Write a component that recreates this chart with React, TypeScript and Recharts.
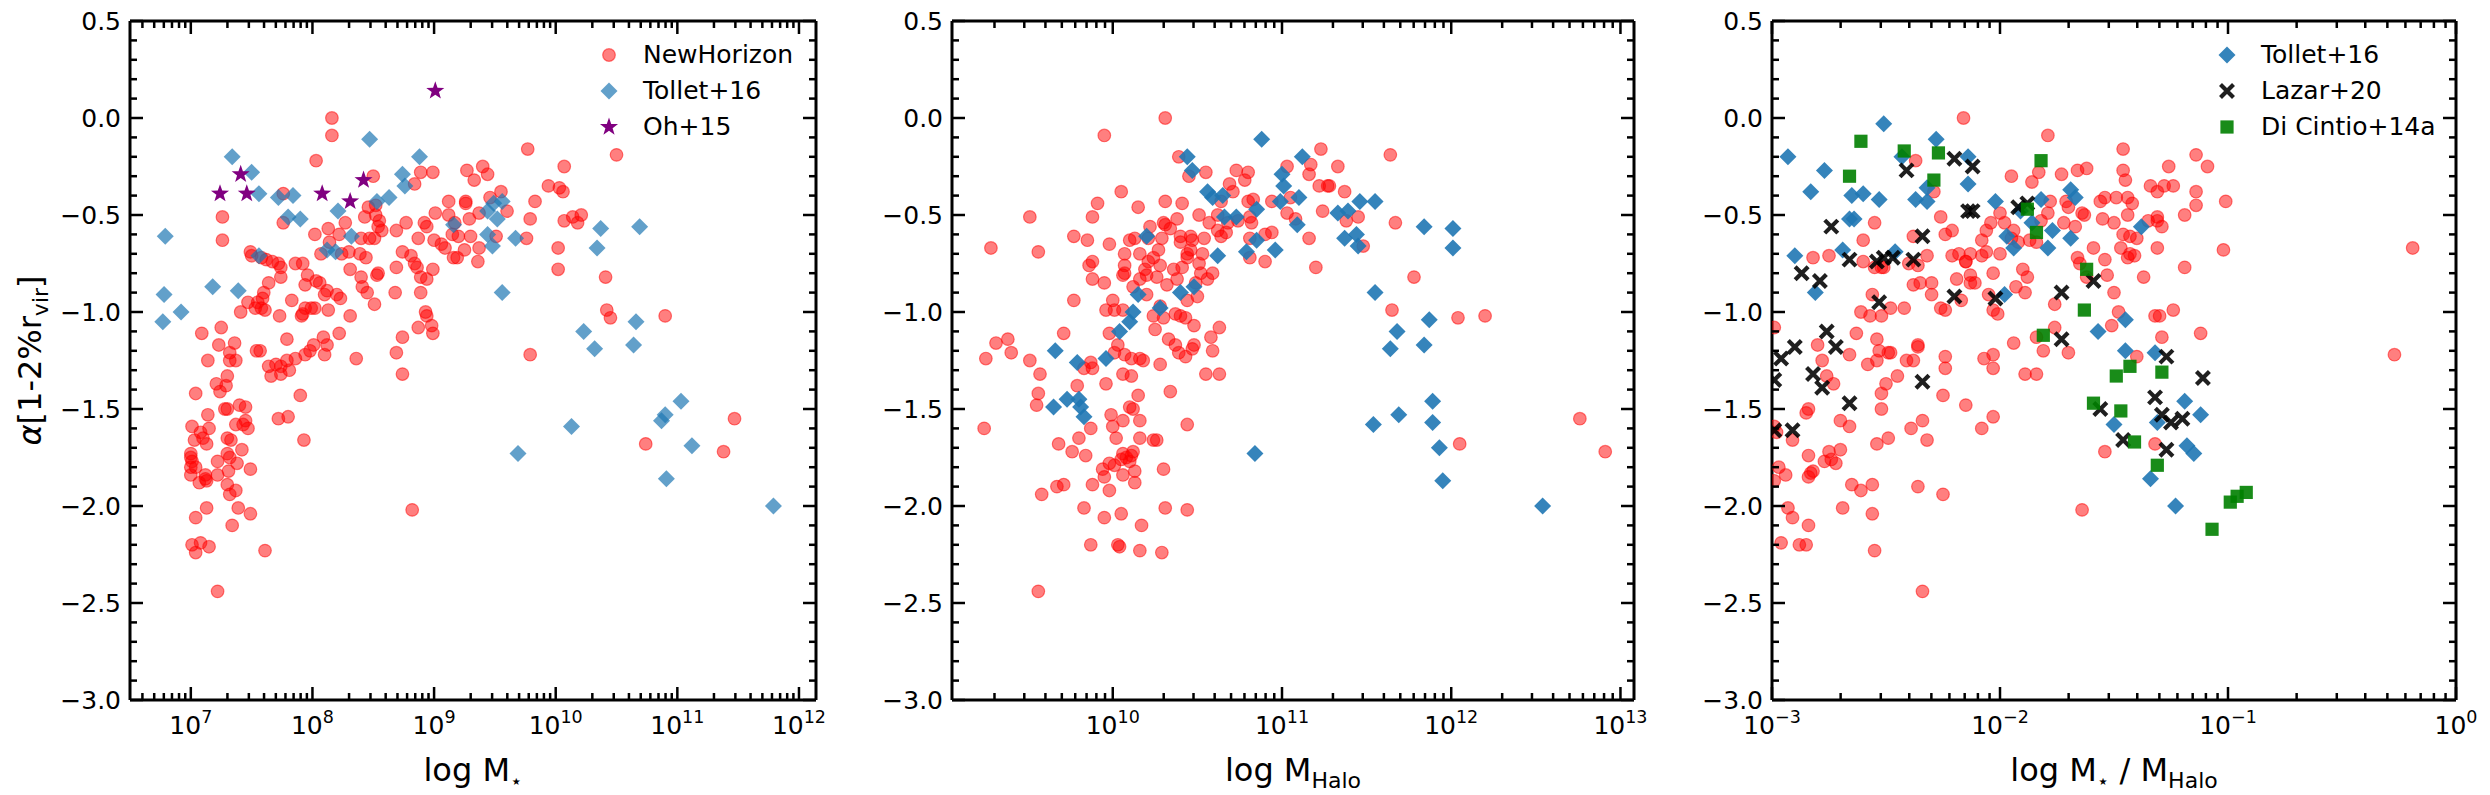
import { Label, Legend, Scatter, ScatterChart, XAxis, YAxis } from 'recharts'
import type { ReactNode } from 'react'

type Pt = [number, number]

// ---- data: [log x, alpha] ----
const nhStellar: Pt[] = [
  [8.16, 0.0], [8.16, -0.09], [8.03, -0.22], [7.26, -0.51], [7.26, -0.63], [7.76, -0.39], [7.76, -0.54],
  [8.5, -0.3], [8.99, -0.28], [8.89, -0.28], [8.84, -0.34], [9.27, -0.27], [9.33, -0.32], [9.12, -0.43],
  [9.26, -0.43], [9.26, -0.44], [9.01, -0.49], [9.12, -0.5], [9.17, -0.54], [9.29, -0.52], [9.37, -0.49],
  [8.92, -0.54], [8.94, -0.56], [8.77, -0.54], [8.69, -0.58], [8.87, -0.62], [9.0, -0.63], [9.06, -0.65],
  [9.09, -0.67], [9.15, -0.6], [9.2, -0.61], [9.3, -0.61], [9.25, -0.68], [9.16, -0.72], [9.19, -0.72],
  [9.36, -0.74], [8.74, -0.69], [8.81, -0.71], [8.84, -0.75], [8.86, -0.77], [8.69, -0.77], [8.99, -0.78],
  [8.89, -0.82], [8.94, -0.83], [8.89, -0.9], [8.68, -0.9], [8.93, -1.0], [8.94, -1.02], [8.87, -1.08],
  [8.98, -1.07], [8.99, -1.11], [8.74, -1.13], [8.69, -1.21], [8.74, -1.32], [8.82, -2.02],
  [8.02, -0.6], [8.13, -0.57], [8.22, -0.6], [8.27, -0.54], [8.14, -0.64], [8.07, -0.7], [8.24, -0.7],
  [8.3, -0.69], [8.39, -0.7], [8.44, -0.72], [8.4, -0.62], [8.47, -0.62], [8.51, -0.62], [8.43, -0.51],
  [8.46, -0.46], [8.52, -0.45], [8.52, -0.5], [8.55, -0.53], [8.54, -0.56], [8.57, -0.58], [8.31, -0.78],
  [8.4, -0.82], [8.41, -0.87], [8.45, -0.9], [8.51, -0.96], [8.53, -0.81], [8.54, -0.8], [8.31, -1.02],
  [8.22, -1.11], [8.36, -1.24],
  [7.86, -0.75], [7.92, -0.75], [7.96, -0.81], [7.94, -0.86], [8.03, -0.84], [8.06, -0.85], [8.1, -0.91],
  [8.12, -0.89], [8.2, -0.91], [8.23, -0.93], [8.13, -0.99], [8.02, -0.98], [7.99, -0.98], [7.94, -0.98],
  [7.92, -1.01], [7.91, -1.02], [7.83, -0.94], [7.73, -1.02], [7.79, -1.14], [8.09, -1.13], [8.12, -1.17],
  [8.1, -1.22], [8.01, -1.17], [7.98, -1.2], [7.94, -1.22], [7.86, -1.24], [7.79, -1.25], [7.74, -1.28],
  [7.7, -1.27], [7.64, -1.28], [7.66, -1.33], [7.74, -1.32], [7.81, -1.3], [7.9, -1.43], [7.8, -1.54],
  [7.72, -1.55], [7.93, -1.66],
  [7.49, -0.69], [7.5, -0.71], [7.58, -0.72], [7.62, -0.73], [7.67, -0.74], [7.72, -0.75], [7.74, -0.77],
  [7.74, -0.82], [7.64, -0.85], [7.6, -0.9], [7.59, -0.93], [7.55, -0.95], [7.58, -0.98], [7.61, -0.99],
  [7.53, -0.98], [7.47, -0.95], [7.41, -1.0], [7.54, -1.2], [7.57, -1.2],
  [7.09, -1.11], [7.25, -1.08], [7.23, -1.17], [7.36, -1.16], [7.32, -1.21], [7.32, -1.25], [7.37, -1.25],
  [7.14, -1.25], [7.3, -1.33], [7.21, -1.37], [7.29, -1.38], [7.24, -1.41], [7.04, -1.42], [7.4, -1.48],
  [7.45, -1.49], [7.28, -1.5], [7.3, -1.5], [7.14, -1.53], [7.01, -1.59], [7.08, -1.62], [7.15, -1.6],
  [7.45, -1.56], [7.47, -1.6], [7.43, -1.58], [7.37, -1.58], [7.3, -1.65], [7.33, -1.66], [7.13, -1.68],
  [7.1, -1.65], [7.03, -1.66], [7.0, -1.73], [7.0, -1.75], [7.01, -1.77], [7.04, -1.8], [7.0, -1.8],
  [7.0, -1.84], [7.07, -1.88], [7.12, -1.86], [7.13, -1.87], [7.12, -1.84], [7.22, -1.84], [7.22, -1.77],
  [7.3, -1.73], [7.32, -1.75], [7.38, -1.78], [7.42, -1.71], [7.31, -1.82], [7.3, -1.89], [7.32, -1.94],
  [7.37, -1.92], [7.39, -2.01], [7.49, -1.81], [7.49, -2.04], [7.13, -2.01], [7.04, -2.06], [7.34, -2.1],
  [7.01, -2.2], [7.04, -2.24], [7.08, -2.19], [7.15, -2.21], [7.61, -2.23], [7.22, -2.44],
  [9.4, -0.25], [9.44, -0.29], [9.77, -0.16], [10.07, -0.25], [10.5, -0.19], [9.94, -0.35], [10.03, -0.36],
  [10.06, -0.38], [9.83, -0.43], [9.55, -0.38], [9.46, -0.41], [9.6, -0.48], [9.79, -0.52], [10.07, -0.53],
  [10.14, -0.51], [10.21, -0.5], [10.18, -0.54], [9.51, -0.61], [9.76, -0.62], [9.37, -0.67], [10.02, -0.67],
  [10.02, -0.78], [10.41, -0.82], [10.42, -0.99], [10.45, -1.03], [10.9, -1.02], [9.79, -1.22],
  [10.74, -1.68], [11.47, -1.55], [11.38, -1.72],
]

const nhHalo: Pt[] = [
  [10.31, 0.0], [9.95, -0.09], [9.51, -0.51], [9.28, -0.67], [9.56, -0.69], [9.77, -0.94], [10.05, -0.38],
  [9.91, -0.44], [9.88, -0.51], [9.77, -0.61], [9.85, -0.63], [9.98, -0.65], [10.15, -0.46], [10.31, -0.43],
  [10.41, -0.44], [10.39, -0.2], [10.45, -0.3], [10.55, -0.28], [10.73, -0.27], [10.8, -0.28], [10.78, -0.32],
  [10.69, -0.34], [10.71, -0.38], [10.64, -0.43], [10.8, -0.43], [10.83, -0.42], [10.94, -0.43],
  [10.51, -0.5], [10.57, -0.54], [10.62, -0.5], [10.68, -0.54], [10.74, -0.53], [10.81, -0.51], [10.82, -0.54],
  [10.62, -0.58], [10.67, -0.59], [10.64, -0.61], [10.9, -0.6], [10.94, -0.59], [10.81, -0.62], [10.9, -0.74],
  [10.81, -0.72], [10.38, -0.52], [10.3, -0.54], [10.31, -0.55], [10.34, -0.57], [10.22, -0.56], [10.13, -0.62],
  [10.21, -0.62], [10.29, -0.62], [10.4, -0.61], [10.46, -0.61], [10.47, -0.63], [10.4, -0.64], [10.46, -0.68],
  [10.54, -0.62], [10.53, -0.7], [10.51, -0.75], [10.52, -0.8], [10.56, -0.83], [10.59, -0.8], [10.44, -0.7],
  [10.44, -0.72], [10.41, -0.77], [10.49, -0.85], [10.5, -0.92], [10.44, -0.94], [10.36, -0.78], [10.38, -0.83],
  [10.32, -0.86], [10.27, -0.68], [10.24, -0.72], [10.21, -0.74], [10.16, -0.7], [10.19, -0.78], [10.16, -0.83],
  [10.2, -0.81], [10.28, -0.76], [10.26, -0.82], [10.1, -0.63], [10.07, -0.7], [10.07, -0.76], [10.06, -0.81],
  [10.07, -0.8], [10.12, -0.87], [10.0, -0.94], [9.96, -0.99], [10.01, -0.99], [10.06, -0.99], [9.95, -0.85],
  [9.88, -0.83], [9.86, -0.76], [9.88, -0.74], [9.98, -1.11], [10.03, -1.17], [10.01, -1.21], [10.07, -1.22],
  [10.11, -1.24], [10.16, -1.24], [10.18, -1.25], [10.06, -1.32], [10.11, -1.33], [10.2, -0.91], [10.28, -0.97],
  [10.24, -1.02], [10.3, -1.03], [10.37, -1.01], [10.4, -1.02], [10.43, -1.03], [10.48, -1.07], [10.25, -1.09],
  [10.33, -1.14], [10.37, -1.17], [10.39, -1.21], [10.43, -1.23], [10.48, -1.17], [10.47, -1.19], [10.58, -1.13],
  [10.63, -1.08], [10.59, -1.2], [10.55, -1.32], [10.63, -1.32], [10.28, -1.27], [10.34, -1.41], [10.44, -1.58],
  [9.71, -1.11], [9.57, -1.32], [9.51, -1.25], [9.4, -1.21], [9.38, -1.14], [9.31, -1.16], [9.25, -1.24],
  [9.24, -1.6], [9.56, -1.42], [9.55, -1.48], [9.79, -1.38], [9.83, -1.29], [9.87, -1.26], [9.88, -1.29],
  [9.96, -1.37], [9.87, -1.6], [9.8, -1.65], [9.76, -1.72], [9.84, -1.74], [9.68, -1.68], [9.99, -1.53],
  [10.0, -1.59], [10.02, -1.65], [10.06, -1.56], [10.1, -1.49], [10.12, -1.5], [10.15, -1.43], [10.16, -1.56],
  [10.16, -1.65], [10.12, -1.72], [10.11, -1.74], [10.08, -1.75], [10.06, -1.73], [10.05, -1.76], [10.01, -1.79],
  [9.98, -1.78], [9.94, -1.81], [9.95, -1.85], [9.98, -1.92], [10.06, -1.84], [10.13, -1.82], [10.13, -1.88],
  [10.1, -1.77], [10.24, -1.66], [10.26, -1.66], [10.3, -1.81], [9.88, -1.89], [9.71, -1.89], [9.67, -1.9],
  [9.58, -1.94], [9.83, -2.01], [9.95, -2.06], [10.05, -2.04], [10.17, -2.1], [10.31, -2.01], [10.44, -2.02],
  [9.87, -2.2], [10.03, -2.2], [10.04, -2.21], [10.16, -2.23], [10.29, -2.24], [9.56, -2.44],
  [11.23, -0.16], [11.64, -0.19], [11.03, -0.25], [11.17, -0.24], [11.16, -0.29], [11.33, -0.25], [11.22, -0.35],
  [11.27, -0.35], [11.28, -0.35], [11.37, -0.38], [11.05, -0.41], [11.03, -0.49], [11.08, -0.52], [11.24, -0.48],
  [11.38, -0.53], [11.45, -0.51], [11.16, -0.62], [11.48, -0.66], [11.67, -0.54], [11.2, -0.77], [11.78, -0.82],
  [11.65, -0.99], [12.04, -1.03], [12.2, -1.02], [12.05, -1.68], [12.76, -1.55], [12.91, -1.72],
]

const nhRatio: Pt[] = [
  [-2.16, 0.0], [-1.79, -0.09], [-2.37, -0.22], [-1.95, -0.3], [-1.86, -0.33], [-1.83, -0.28], [-1.73, -0.29],
  [-1.66, -0.27], [-1.62, -0.26], [-2.29, -0.38], [-2.26, -0.51], [-2.24, -0.6], [-2.21, -0.58], [-2.55, -0.54],
  [-2.6, -0.63], [-2.38, -0.61], [-2.82, -0.72], [-2.75, -0.71], [-2.6, -0.74], [-2.55, -0.77], [-2.52, -0.77],
  [-2.51, -0.77], [-2.4, -0.75], [-2.36, -0.76], [-2.32, -0.71], [-2.21, -0.71], [-2.18, -0.7], [-2.15, -0.74],
  [-2.13, -0.7], [-2.08, -0.71], [-2.06, -0.69], [-2.0, -0.7], [-2.08, -0.63], [-2.06, -0.58], [-2.04, -0.54],
  [-2.0, -0.49], [-1.98, -0.54], [-1.94, -0.58], [-1.95, -0.62], [-1.92, -0.64], [-1.87, -0.63], [-1.84, -0.64],
  [-1.82, -0.53], [-1.79, -0.49], [-1.78, -0.43], [-1.71, -0.43], [-1.7, -0.46], [-1.64, -0.49], [-1.63, -0.5],
  [-1.72, -0.54], [-1.67, -0.56], [-1.56, -0.43], [-1.54, -0.41], [-1.55, -0.52], [-1.59, -0.67], [-1.66, -0.72],
  [-1.65, -0.75], [-1.62, -0.82], [-1.54, -0.73], [-1.53, -0.81], [-2.38, -0.86], [-2.35, -0.85], [-2.3, -0.85],
  [-2.3, -0.91], [-2.26, -0.98], [-2.24, -0.99], [-2.17, -0.94], [-2.19, -0.83], [-2.13, -0.81], [-2.13, -0.85],
  [-2.11, -0.85], [-2.15, -0.74], [-2.03, -0.8], [-2.05, -0.91], [-2.03, -0.99], [-2.01, -1.01], [-1.93, -0.87],
  [-1.9, -0.78], [-1.88, -0.82], [-1.89, -0.9], [-1.76, -0.96], [-1.76, -1.08], [-1.84, -1.13], [-1.81, -1.2],
  [-1.7, -1.21], [-1.94, -1.16], [-1.89, -1.32], [-1.84, -1.32], [-2.03, -1.22], [-2.03, -1.29], [-2.07, -1.24],
  [-2.03, -1.54], [-2.08, -1.6], [-2.15, -1.48], [-2.24, -1.23], [-2.24, -1.29], [-2.25, -1.43], [-2.36, -1.17],
  [-2.41, -1.25], [-2.38, -1.25], [-2.45, -1.33], [-2.48, -1.21], [-2.49, -1.21], [-2.53, -1.2], [-2.54, -1.14],
  [-2.54, -1.25], [-2.58, -1.27], [-2.5, -1.37], [-2.52, -1.42], [-2.52, -1.5], [-2.63, -1.11], [-2.61, -1.0],
  [-2.57, -1.02], [-2.56, -0.91], [-2.52, -1.02], [-2.48, -0.98], [-2.42, -0.98], [-2.66, -1.22], [-2.8, -1.17],
  [-2.78, -1.25], [-2.76, -1.33], [-2.73, -1.37], [-2.84, -1.5], [-2.85, -1.52], [-2.7, -1.56], [-2.66, -1.59],
  [-2.7, -1.71], [-2.75, -1.72], [-2.74, -1.76], [-2.72, -1.78], [-2.77, -1.77], [-2.84, -1.74], [-2.82, -1.82],
  [-2.84, -1.85], [-2.83, -1.83], [-2.99, -1.59], [-2.98, -1.62], [-2.91, -1.66], [-2.97, -1.8], [-2.94, -1.84],
  [-2.99, -1.87], [-2.93, -2.01], [-2.91, -2.06], [-2.84, -2.1], [-2.96, -2.19], [-2.88, -2.2], [-2.85, -2.2],
  [-2.69, -2.01], [-2.65, -1.89], [-2.61, -1.92], [-2.56, -1.89], [-2.56, -2.04], [-2.55, -2.23], [-2.54, -1.68],
  [-2.49, -1.65], [-2.39, -1.6], [-2.34, -1.56], [-2.32, -1.66], [-2.36, -1.9], [-2.25, -1.94], [-2.34, -2.44],
  [-1.64, -2.02], [-1.54, -1.72], [-2.99, -1.08], [-2.36, -1.18],
  [-1.46, -0.16], [-1.46, -0.27], [-1.45, -0.32], [-1.34, -0.35], [-1.31, -0.38], [-1.28, -0.35], [-1.24, -0.35],
  [-1.26, -0.25], [-1.14, -0.19], [-1.09, -0.25], [-1.14, -0.38], [-1.14, -0.45], [-1.19, -0.5], [-1.01, -0.43],
  [-1.49, -0.41], [-1.44, -0.41], [-1.42, -0.44], [-1.5, -0.54], [-1.44, -0.5], [-1.46, -0.6], [-1.43, -0.61],
  [-1.4, -0.62], [-1.31, -0.51], [-1.31, -0.53], [-1.29, -0.56], [-1.35, -0.53], [-1.31, -0.67], [-1.47, -0.67],
  [-1.43, -0.7], [-1.41, -0.71], [-1.44, -0.72], [-1.37, -0.82], [-1.5, -0.9], [-1.19, -0.77], [-1.02, -0.68],
  [-1.48, -1.0], [-1.51, -1.07], [-1.32, -1.02], [-1.3, -1.02], [-1.24, -0.99], [-1.29, -1.13], [-1.12, -1.11],
  [-1.4, -1.23], [-1.32, -1.68], [-0.19, -0.67], [-0.27, -1.22],
]

const tollStellar: Pt[] = [
  [6.79, -0.61], [6.78, -0.91], [6.77, -1.05], [6.92, -1.0], [7.18, -0.87], [7.39, -0.89], [7.34, -0.2],
  [7.5, -0.28], [7.56, -0.39], [7.72, -0.41], [7.84, -0.4], [7.8, -0.51], [7.9, -0.52], [7.56, -0.71],
  [8.12, -0.68], [8.19, -0.69], [8.21, -0.48], [8.32, -0.61], [8.47, -0.11], [8.53, -0.43], [8.63, -0.41],
  [8.74, -0.29], [8.76, -0.35], [8.88, -0.2], [9.16, -0.55], [9.44, -0.48], [9.52, -0.52], [9.56, -0.43],
  [9.49, -0.44], [9.44, -0.6], [9.48, -0.66], [9.67, -0.62], [9.56, -0.9], [10.37, -0.57], [10.34, -0.67],
  [10.69, -0.56], [10.23, -1.1], [10.32, -1.19], [10.66, -1.05], [10.64, -1.17], [10.13, -1.59], [9.69, -1.73],
  [10.9, -1.53], [10.87, -1.56], [11.03, -1.46], [11.12, -1.69], [10.91, -1.86], [11.79, -2.0],
]

const tollHalo: Pt[] = [
  [10.88, -0.11], [10.44, -0.2], [10.47, -0.27], [10.56, -0.38], [10.59, -0.41], [10.65, -0.4], [10.66, -0.51],
  [10.73, -0.51], [10.85, -0.47], [10.85, -0.63], [10.79, -0.69], [10.96, -0.68], [11.0, -0.29], [11.01, -0.35],
  [10.99, -0.43], [10.62, -0.71], [10.2, -0.61], [10.15, -0.91], [10.4, -0.9], [10.48, -0.87], [10.28, -0.98],
  [10.12, -1.0], [10.1, -1.05], [10.04, -1.1], [9.96, -1.24], [9.66, -1.2], [9.79, -1.26], [9.73, -1.45],
  [9.8, -1.45], [9.81, -1.49], [9.83, -1.54], [9.65, -1.49], [10.84, -1.73],
  [11.12, -0.2], [11.1, -0.41], [11.09, -0.55], [11.33, -0.49], [11.39, -0.48], [11.46, -0.43], [11.55, -0.43],
  [11.37, -0.62], [11.44, -0.6], [11.45, -0.66], [11.84, -0.56], [12.01, -0.57], [12.01, -0.67], [11.55, -0.9],
  [11.68, -1.1], [11.64, -1.19], [11.87, -1.04], [11.84, -1.17], [11.89, -1.46], [11.69, -1.53], [11.54, -1.58],
  [11.89, -1.57], [11.93, -1.7], [11.95, -1.87], [12.54, -2.0],
]

const tollRatio: Pt[] = [
  [-2.51, -0.03], [-2.93, -0.2], [-2.77, -0.27], [-2.83, -0.38], [-2.65, -0.4], [-2.6, -0.39], [-2.53, -0.42],
  [-2.66, -0.52], [-2.64, -0.52], [-2.69, -0.68], [-2.9, -0.71], [-2.81, -0.9], [-2.46, -0.69], [-2.43, -0.2],
  [-2.28, -0.11], [-2.14, -0.2], [-2.14, -0.34], [-2.32, -0.36], [-2.37, -0.42], [-2.32, -0.43], [-2.02, -0.43],
  [-1.91, -0.48], [-1.82, -0.42], [-1.86, -0.54], [-1.77, -0.58], [-1.97, -0.61], [-1.94, -0.67], [-1.79, -0.67],
  [-1.69, -0.37], [-1.67, -0.41], [-1.69, -0.62], [-1.98, -0.91], [-1.57, -1.1],
  [-1.38, -0.56], [-1.45, -1.04], [-1.45, -1.2], [-1.32, -1.21], [-1.19, -1.46], [-1.12, -1.53], [-1.31, -1.57],
  [-1.5, -1.58], [-1.18, -1.69], [-1.15, -1.73], [-1.34, -1.86], [-1.23, -2.0],
]

const ohStellar: Pt[] = [
  [7.24, -0.39], [7.41, -0.29], [7.46, -0.39], [8.08, -0.39], [8.31, -0.43], [8.42, -0.32], [9.01, 0.14],
]

const lazarRatio: Pt[] = [
  [-2.2, -0.21], [-2.12, -0.25], [-2.41, -0.27], [-2.14, -0.48], [-2.12, -0.48], [-2.34, -0.61], [-2.74, -0.56],
  [-2.66, -0.73], [-2.54, -0.74], [-2.51, -0.72], [-2.47, -0.72], [-2.38, -0.73], [-2.87, -0.8], [-2.79, -0.84],
  [-2.53, -0.95], [-2.2, -0.92], [-2.02, -0.93], [-1.92, -0.46], [-1.88, -0.44], [-1.59, -0.84], [-1.73, -0.9],
  [-1.73, -1.14], [-2.76, -1.1], [-2.72, -1.18], [-2.9, -1.18], [-2.96, -1.24], [-2.82, -1.32], [-2.78, -1.39],
  [-2.66, -1.47], [-2.34, -1.36], [-2.91, -1.61], [-2.99, -1.61], [-2.99, -1.35], [-1.56, -1.5],
  [-1.27, -1.23], [-1.11, -1.34], [-1.32, -1.44], [-1.29, -1.53], [-1.25, -1.57], [-1.2, -1.55], [-1.46, -1.66],
  [-1.27, -1.71],
]

const dicintioRatio: Pt[] = [
  [-2.61, -0.12], [-2.66, -0.3], [-2.42, -0.17], [-2.27, -0.18], [-2.29, -0.32], [-1.82, -0.22], [-1.88, -0.47],
  [-1.84, -0.59], [-1.62, -0.78], [-1.63, -0.99], [-1.81, -1.12], [-1.59, -1.47],
  [-1.49, -1.33], [-1.43, -1.28], [-1.29, -1.31], [-1.47, -1.51], [-1.41, -1.67], [-1.31, -1.79], [-1.07, -2.12],
  [-0.99, -1.98], [-0.96, -1.95], [-0.92, -1.93],
]

const Y_DOMAIN: [number, number] = [-3, 0.5]
const Y_TICKS = Array.from({ length: 36 }, (_, i) => (i - 30) / 10)

const FONT = "'DejaVu Sans', sans-serif"
const RED = '#ff0000'
const TAB_BLUE = '#1f77b4'
const SPINE = { stroke: '#000', strokeWidth: 3 }

function logTicks(lo: number, hi: number) {
  const out: number[] = []
  for (let d = Math.floor(lo); d <= Math.ceil(hi); d++) {
    for (let k = 1; k <= 9; k++) {
      const v = d + Math.log10(k)
      if (v >= lo - 1e-9 && v <= hi + 1e-9) out.push(v)
    }
  }
  return out
}

const fmtExp = (v: number) => (v < 0 ? `\u2212${-v}` : String(v))
const fmtY = (v: number) => v.toFixed(1).replace('-', '\u2212')
const isMajorY = (v: number) => Math.round(v * 10) % 5 === 0

// ---- markers ----
const drawCircle = (cx: number, cy: number) => (
  <circle cx={cx} cy={cy} r={6.3} fill={RED} fillOpacity={0.5} stroke={RED} strokeOpacity={0.5} strokeWidth={1.2} />
)
const drawDiamond = (alpha: number) => (cx: number, cy: number) => (
  <polygon
    points={`${cx},${cy - 8.5} ${cx + 8.5},${cy} ${cx},${cy + 8.5} ${cx - 8.5},${cy}`}
    fill={TAB_BLUE}
    fillOpacity={alpha}
  />
)
const drawStar = (cx: number, cy: number) => {
  const pts = Array.from({ length: 10 }, (_, i) => {
    const a = -Math.PI / 2 + (i * Math.PI) / 5
    const r = i % 2 === 0 ? 9.5 : 3.8
    return `${cx + r * Math.cos(a)},${cy + r * Math.sin(a)}`
  }).join(' ')
  return <polygon points={pts} fill="#800080" />
}
const drawCross = (cx: number, cy: number) => (
  <path
    d={`M${cx - 6.5},${cy - 6.5}L${cx + 6.5},${cy + 6.5}M${cx - 6.5},${cy + 6.5}L${cx + 6.5},${cy - 6.5}`}
    stroke="#000"
    strokeOpacity={0.88}
    strokeWidth={4.2}
  />
)
const drawSquare = (cx: number, cy: number) => (
  <rect x={cx - 6.6} y={cy - 6.6} width={13.2} height={13.2} fill="#008000" fillOpacity={0.9} />
)

// ---- ticks (inward, all four sides) ----
function BottomTick(props: any) {
  const { x, y, payload } = props
  const v: number = payload.value
  const major = Number.isInteger(v)
  return (
    <g>
      <line x1={x} x2={x} y1={y} y2={y - (major ? 13 : 7)} stroke="#000" strokeWidth={2.5} />
      {major && (
        <text x={x} y={y + 34} textAnchor="middle" fontFamily={FONT} fontSize={25} fill="#000">
          10<tspan fontSize={17.5} dy={-11}>{fmtExp(v)}</tspan>
        </text>
      )}
    </g>
  )
}

function TopTick(props: any) {
  const { x, y, payload } = props
  const major = Number.isInteger(payload.value)
  return <line x1={x} x2={x} y1={y} y2={y + (major ? 13 : 7)} stroke="#000" strokeWidth={2.5} />
}

function LeftTick(props: any) {
  const { x, y, payload } = props
  const v: number = payload.value
  const major = isMajorY(v)
  return (
    <g>
      <line x1={x} x2={x + (major ? 13 : 7)} y1={y} y2={y} stroke="#000" strokeWidth={2.5} />
      {major && (
        <text x={x - 9} y={y} dy="0.36em" textAnchor="end" fontFamily={FONT} fontSize={25} fill="#000">
          {fmtY(v)}
        </text>
      )}
    </g>
  )
}

function RightTick(props: any) {
  const { x, y, payload } = props
  const major = isMajorY(payload.value)
  return <line x1={x} x2={x - (major ? 13 : 7)} y1={y} y2={y} stroke="#000" strokeWidth={2.5} />
}

interface Series {
  name: string
  data: Pt[]
  draw: (cx: number, cy: number) => ReactNode
}

function LegendBox({ items }: { items: Series[] }) {
  return (
    <div style={{ fontFamily: FONT, fontSize: 25, color: '#000' }}>
      {items.map((it) => (
        <div key={it.name} style={{ display: 'flex', alignItems: 'center', height: 36 }}>
          <svg width={28} height={28} style={{ display: 'block' }}>{it.draw(14, 14)}</svg>
          <span style={{ marginLeft: 20, lineHeight: '36px', whiteSpace: 'nowrap' }}>{it.name}</span>
        </div>
      ))}
    </div>
  )
}

interface PanelProps {
  left: number
  width: number
  plotLeft: number
  plotRight: number
  xDomain: [number, number]
  xTitle: ReactNode
  yTitle?: boolean
  series: Series[]
  legendX?: number
}

function Panel({ left, width, plotLeft, plotRight, xDomain, xTitle, yTitle, series, legendX }: PanelProps) {
  const xTicks = logTicks(xDomain[0], xDomain[1])
  const axisCommon = { allowDataOverflow: true, tickLine: false, tickSize: 0, tickMargin: 0, axisLine: SPINE, interval: 0 as const }
  return (
    <div style={{ position: 'absolute', left, top: 0 }}>
      <ScatterChart width={width} height={795} margin={{ top: 20, right: width - plotRight - 1, bottom: 5, left: 0 }}>
        <XAxis xAxisId="b" orientation="bottom" type="number" dataKey="x" domain={xDomain} ticks={xTicks}
          tick={BottomTick} height={90} {...axisCommon}>
          <Label
            content={(p: any) => (
              <text x={p.viewBox.x + p.viewBox.width / 2} y={p.viewBox.y + 81} textAnchor="middle"
                fontFamily={FONT} fontSize={32} fill="#000">
                {xTitle}
              </text>
            )}
          />
        </XAxis>
        <XAxis xAxisId="t" orientation="top" type="number" dataKey="x" domain={xDomain} ticks={xTicks}
          tick={TopTick} height={1} {...axisCommon} />
        <YAxis yAxisId="l" orientation="left" type="number" dataKey="y" domain={Y_DOMAIN} ticks={Y_TICKS}
          tick={LeftTick} width={plotLeft} {...axisCommon}>
          {yTitle && (
            <Label
              content={(p: any) => {
                const cy = p.viewBox.y + p.viewBox.height / 2
                return (
                  <text x={29} y={cy} transform={`rotate(-90 29 ${cy})`} textAnchor="middle" dy="0.36em"
                    fontFamily={FONT} fontSize={32} fill="#000">
                    <tspan fontStyle="italic">α</tspan>[1-2%r<tspan fontSize={22} dy={7}>vir</tspan>
                    <tspan dy={-7}>]</tspan>
                  </text>
                )
              }}
            />
          )}
        </YAxis>
        <YAxis yAxisId="r" orientation="right" type="number" dataKey="y" domain={Y_DOMAIN} ticks={Y_TICKS}
          tick={RightTick} width={1} {...axisCommon} />

        {series.map((s) => (
          <Scatter
            key={s.name}
            name={s.name}
            data={s.data.map(([x, y]) => ({ x, y }))}
            xAxisId="b"
            yAxisId="l"
            shape={(p: any) => <g>{s.draw(p.cx, p.cy)}</g>}
            isAnimationActive={false}
          />
        ))}

        {legendX !== undefined && (
          <Legend
            layout="vertical"
            align="center"
            verticalAlign="middle"
            wrapperStyle={{ left: legendX, top: 37, width: 'auto', height: 'auto' }}
            content={() => <LegendBox items={series.filter((s) => s.name !== '_nh')} />}
          />
        )}
      </ScatterChart>
    </div>
  )
}

export default function App() {
  return (
    <div style={{ position: 'absolute', left: 0, top: 0, width: 2490, height: 795, background: '#fff' }}>
      <Panel
        left={0}
        width={830}
        plotLeft={130}
        plotRight={816}
        xDomain={[6.5, 12.14]}
        yTitle
        legendX={595}
        xTitle={<>log M<tspan fontSize={20} dy={7}>⋆</tspan></>}
        series={[
          { name: 'NewHorizon', data: nhStellar, draw: drawCircle },
          { name: 'Tollet+16', data: tollStellar, draw: drawDiamond(0.7) },
          { name: 'Oh+15', data: ohStellar, draw: drawStar },
        ]}
      />
      <Panel
        left={830}
        width={830}
        plotLeft={122}
        plotRight={804}
        xDomain={[9.05, 13.08]}
        xTitle={<>log M<tspan fontSize={22} dy={7}>Halo</tspan></>}
        series={[
          { name: 'NewHorizon', data: nhHalo, draw: drawCircle },
          { name: 'Tollet+16', data: tollHalo, draw: drawDiamond(0.9) },
        ]}
      />
      <Panel
        left={1660}
        width={830}
        plotLeft={112}
        plotRight={796}
        xDomain={[-3, 0]}
        legendX={553}
        xTitle={<>log M<tspan fontSize={20} dy={7}>⋆</tspan><tspan dy={-7}> / M</tspan><tspan fontSize={22} dy={7}>Halo</tspan></>}
        series={[
          { name: '_nh', data: nhRatio, draw: drawCircle },
          { name: 'Tollet+16', data: tollRatio, draw: drawDiamond(0.9) },
          { name: 'Lazar+20', data: lazarRatio, draw: drawCross },
          { name: 'Di Cintio+14a', data: dicintioRatio, draw: drawSquare },
        ]}
      />
    </div>
  )
}
